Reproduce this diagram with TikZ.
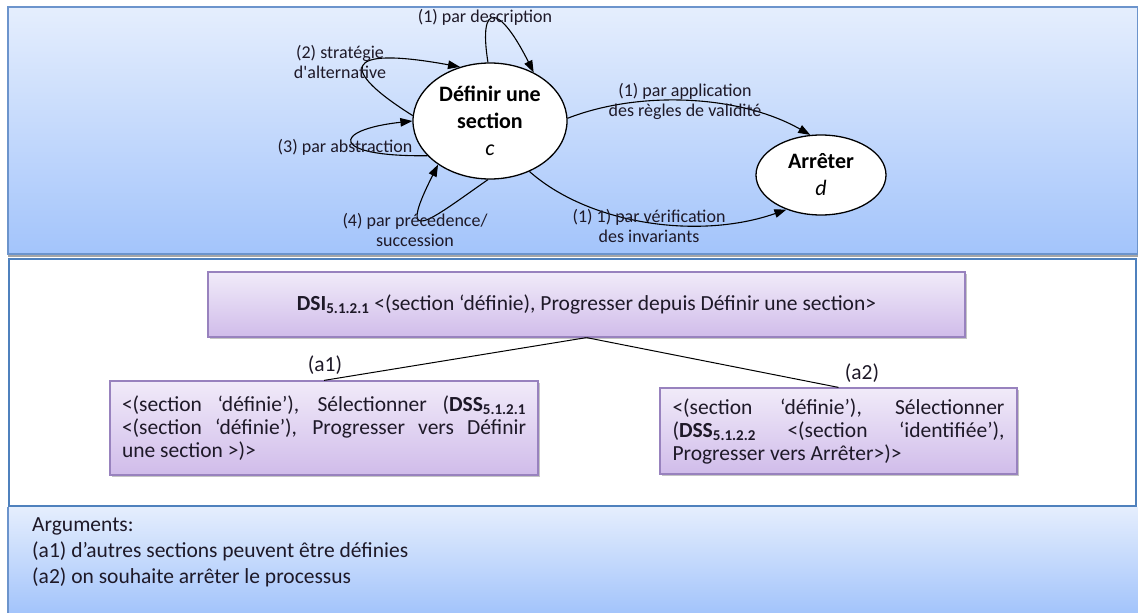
\documentclass[tikz,border=0pt]{standalone}
\usepackage{fontspec}
\setmainfont{Carlito}
\usetikzlibrary{arrows.meta,positioning,shapes.geometric,shadows}
\definecolor{panelTop}{RGB}{229,238,253}
\definecolor{panelBot}{RGB}{163,196,251}
\definecolor{panelLine}{RGB}{108,148,204}
\definecolor{frameLine}{RGB}{79,129,189}
\definecolor{boxTop}{RGB}{241,235,249}
\definecolor{boxBot}{RGB}{208,188,234}
\definecolor{boxLine}{RGB}{152,130,190}
\definecolor{txt}{RGB}{30,25,40}
\tikzset{
  etat/.style={draw, ellipse, line width=1.3pt, fill=white, inner sep=0pt, align=center, font=\fontsize{22}{27}\selectfont},
  cbox/.style={draw=boxLine, line width=1.2pt, rectangle, top color=boxTop, bottom color=boxBot, drop shadow={shadow xshift=2pt, shadow yshift=-2pt, fill=black!45}, font=\fontsize{21.5}{23}\selectfont, text=txt},
  lbl/.style={font=\fontsize{18}{20}\selectfont, align=center, text=txt, inner sep=0pt},
  arr/.style={-{Triangle[length=12pt,width=8.5pt]}, line width=1.1pt},
  lnk/.style={line width=1pt},
}

\begin{document}
\begin{tikzpicture}[x=1pt,y=-1pt]
\useasboundingbox (0,0) rectangle (1138,613);

% Panels
\shade[top color=panelTop, bottom color=panelBot] (8,7) rectangle (1138,254);
\draw[panelLine, line width=1.5pt] (8,7) rectangle (1138,254);
\draw[black!35, line width=2pt] (8,256) -- (1138,256);
\shade[top color=panelTop, bottom color=panelBot] (8,507) rectangle (1138,613);
\draw[panelLine, line width=1.2pt] (8,507) -- (8,613);
\draw[frameLine, line width=2.5pt, fill=white] (9,259) rectangle (1136,506);

% States
\node[etat, minimum width=154pt, minimum height=116pt] (c) at (490,121) {\textbf{Définir une}\\\textbf{section}\\\textit{c}};
\node[etat, minimum width=130pt, minimum height=80pt] (d) at (821,175) {\textbf{Arrêter}\\\textit{d}};

% Loops on c
\draw[arr] (c.92) .. controls (478,0) and (500,5) .. (c.48);
\draw[arr] (c.176) .. controls (340,70) and (340,45) .. (c.119);
\draw[arr] (c.209) .. controls (330,157) and (330,130) .. (c.180);
\draw[arr] (c.268) .. controls (430,220) and (395,250) .. (c.220);

% c to d
\draw[arr] (c.2) .. controls (640,90) and (740,95) .. (d.105);
\draw[arr] (c.308) .. controls (590,225) and (700,240) .. (d.225);

% Transition labels
\node[lbl] (l1) at (485,17) {(1) par description};
\node[lbl] (l2) at (340,62) {(2) stratégie\\d\textquotesingle alternative};
\node[lbl] (l3) at (345,147) {(3) par abstraction};
\node[lbl] (l4) at (415,230) {(4) par précedence/\\succession};
\node[lbl] (l5) at (685,101) {(1) par application\\des règles de validité};
\node[lbl] (l6) at (649,226) {(1) 1) par vérification\\des invariants};

% Decomposition
\node[cbox, minimum width=757pt, minimum height=65pt] (dsi) at (586.5,304.5)
  {\textbf{DSI}\textsubscript{\textbf{5.1.2.1}} <(section ‘définie), Progresser depuis Définir une section>};
\node[cbox, text width=404pt, inner xsep=12pt, minimum height=94pt, align=justify] (a1) at (324,428)
  {<(section ‘définie’), Sélectionner (\textbf{DSS}\textsubscript{\textbf{5.1.2.1}}\linebreak <(section ‘définie’), Progresser vers Définir\linebreak une section >)>};
\node[cbox, text width=332pt, inner xsep=12.5pt, minimum height=86pt, align=justify] (a2) at (838.5,431)
  {<(section ‘définie’), Sélectionner\linebreak (\textbf{DSS}\textsubscript{\textbf{5.1.2.2}} <(section ‘identifiée’),\linebreak Progresser vers Arrêter>)>};
\draw[lnk] (dsi.south) -- (a1.north);
\draw[lnk] (dsi.south) -- (a2.north);
\node[font=\fontsize{21.5}{23}\selectfont, text=txt] (ta1) at (325,365) {(a1)};
\node[font=\fontsize{21.5}{23}\selectfont, text=txt] (ta2) at (862,373) {(a2)};

% Arguments
\node[anchor=north west, align=left, inner sep=0pt, font=\fontsize{21.5}{26}\selectfont, text=txt] (args) at (32,517)
  {Arguments:\\(a1) d’autres sections peuvent être définies\\(a2) on souhaite arrêter le processus};

\end{tikzpicture}
\end{document}
